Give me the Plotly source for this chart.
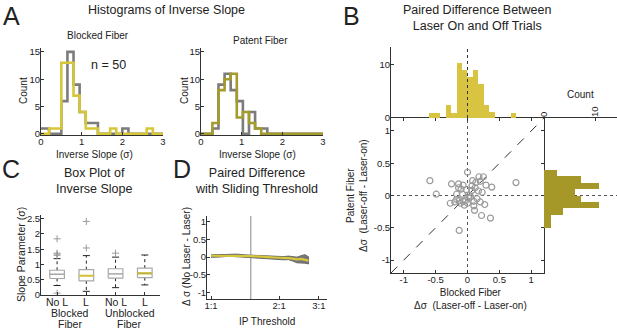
import plotly.graph_objects as go

W, H = 617, 331
FONT = "Liberation Sans, Arial, sans-serif"

# ---------------- Panel A: histograms of inverse slope ----------------
hist_bin_width = 0.15
blocked_edge0 = -0.1
blocked_nolaser_counts = [1, 1, 0, 0, 6, 15, 9, 4, 2, 2, 0, 0, 0, 0, 1, 0, 0, 0, 0, 0, 0]
blocked_laser_counts = [0, 0, 1, 1, 13, 13, 7, 4, 1, 1, 0, 0, 1, 0, 0, 0, 0, 0, 1, 0, 0]
patent_edge0 = -0.02
patent_nolaser_counts = [0, 0, 1, 9, 11, 8, 6, 0, 4, 1, 1, 0, 0, 0, 0, 0, 0, 0, 0, 0, 0]
patent_laser_counts = [0, 0, 2, 8, 10, 11, 3, 4, 2, 1, 0, 0, 0, 0, 0, 0, 0, 0, 0, 0, 0]
n_label = "n = 50"

# ---------------- Panel C: box plot ----------------
box_labels = ["No L", "L", "No L", "L"]
box_groups = ["Blocked", "Unblocked"]
box_q1 = [0.54, 0.46, 0.55, 0.57]
box_median = [0.68, 0.63, 0.69, 0.71]
box_q3 = [0.81, 0.83, 0.86, 0.88]
box_whisk_lo = [0.31, 0.12, 0.24, 0.33]
box_whisk_hi = [1.19, 1.29, 1.24, 1.31]
box_outliers = [[1.30, 1.34, 1.37, 1.84, 0.06], [1.54, 2.41], [1.37], []]
box_median_colors = ["#a8a8a8", "#d8c440", "#a8a8a8", "#c2b232"]

# ---------------- Panel D: sliding threshold ----------------
ip_threshold = [1.0, 1.1, 1.2, 1.3, 1.4, 1.5, 1.6, 1.7, 1.8, 1.9, 2.0, 2.1, 2.2, 2.3, 2.4, 2.5, 2.6, 2.7]
diff_gray = [0.03, 0.04, 0.06, 0.05, 0.03, 0.02, 0.01, 0.0, -0.01, -0.02, -0.02, -0.03, -0.02, -0.05, -0.08, -0.06, -0.05, -0.09]
diff_gray_spread = [0.035, 0.035, 0.035, 0.035, 0.035, 0.035, 0.035, 0.035, 0.035, 0.04, 0.045, 0.045, 0.05, 0.06, 0.08, 0.10, 0.12, 0.10]
diff_yellow = [0.04, 0.04, 0.05, 0.05, 0.04, 0.03, 0.02, 0.0, 0.0, -0.01, -0.01, -0.02, -0.03, -0.04, -0.06, -0.05, -0.08, -0.10]
threshold_marker = 1.5

# ---------------- Panel B: paired differences ----------------
blocked_diff = [-0.59, -0.49, -0.25, -0.27, -0.14, -0.13, 0.0, 0.76, 0.36, 0.22, 0.27, -0.07, -0.14, -0.10,
                0.08, 0.18, 0.25, 0.20, 0.29, 0.38, 0.13, 0.07, 0.07, 0.17, 0.23, -0.17, -0.08, -0.17,
                -0.13, -0.11, -0.07, -0.03, 0.02, 0.0, 0.10, 0.10, 0.11, 0.20, -0.05, 0.03, 0.12, -0.02,
                0.15, -0.20, 0.05]
patent_diff = [0.23, 0.02, 0.18, -0.12, 0.18, -0.54, 0.36, 0.20, -0.35, -0.31, -0.14, 0.16, 0.12, 0.10,
               0.23, 0.29, 0.29, 0.22, 0.16, 0.13, 0.20, 0.15, 0.08, 0.07, 0.05, 0.02, 0.02, -0.06,
               -0.08, -0.12, -0.09, -0.08, -0.04, -0.12, -0.09, -0.16, -0.23, -0.10, -0.15, 0.0, 0.12, 0.09,
               -0.05, -0.10, -0.02]
top_hist_edge0 = -0.6
top_hist_width = 0.0855
top_hist_counts = [1, 1, 0, 2.5, 1, 10.3, 9, 7.6, 9, 6.3, 2.4, 1.1, 0, 0, 0, 1]
side_hist_edge_top = 0.4
side_hist_width = 0.1
side_hist_counts = [2.5, 7.2, 10.8, 6.1, 7.2, 10.8, 3.7, 1.4, 1.4]

GRAY = "#7c7c7c"
YELLOW = "#d6c63a"
OLIVE = "#a39b2c"
TOPYEL = "#d8c440"
SIDEOLV = "#a59828"


def xd(a, b):
    return [a / W, b / W]


def yd(top, bottom):
    return [1 - bottom / H, 1 - top / H]


def stairs(edge0, width, counts):
    edges = [edge0 + width * i for i in range(len(counts) + 1)]
    return edges, list(counts) + [counts[-1]]


fig = go.Figure()

# Panel A traces
for counts, color in [(blocked_nolaser_counts, GRAY), (blocked_laser_counts, YELLOW)]:
    xs, ys = stairs(blocked_edge0, hist_bin_width, counts)
    fig.add_trace(go.Scatter(x=xs, y=ys, mode="lines", line=dict(color=color, width=2.6, shape="hv"),
                             xaxis="x", yaxis="y", showlegend=False, hoverinfo="skip"))
for counts, color in [(patent_nolaser_counts, GRAY), (patent_laser_counts, OLIVE)]:
    xs, ys = stairs(patent_edge0, hist_bin_width, counts)
    fig.add_trace(go.Scatter(x=xs, y=ys, mode="lines", line=dict(color=color, width=2.6, shape="hv"),
                             xaxis="x2", yaxis="y2", showlegend=False, hoverinfo="skip"))

# Panel C traces (box plot drawn from summary statistics)
bw = 0.25
cw = 0.12
pos = list(range(1, len(box_labels) + 1))
rx, ry, wx, wy, cx, cy = [], [], [], [], [], []
for p, a, b, lo, hi in zip(pos, box_q1, box_q3, box_whisk_lo, box_whisk_hi):
    rx += [p - bw, p + bw, p + bw, p - bw, p - bw, None]
    ry += [a, a, b, b, a, None]
    wx += [p, p, None, p, p, None]
    wy += [b, hi, None, a, lo, None]
    cx += [p - cw, p + cw, None, p - cw, p + cw, None]
    cy += [hi, hi, None, lo, lo, None]
fig.add_trace(go.Scatter(x=wx, y=wy, mode="lines", line=dict(color="#222", width=1, dash="dot"),
                         xaxis="x3", yaxis="y3", showlegend=False, hoverinfo="skip"))
fig.add_trace(go.Scatter(x=cx, y=cy, mode="lines", line=dict(color="#222", width=1),
                         xaxis="x3", yaxis="y3", showlegend=False, hoverinfo="skip"))
fig.add_trace(go.Scatter(x=rx, y=ry, mode="lines", line=dict(color="#a8a8a8", width=1.2),
                         fill="toself", fillcolor="white",
                         xaxis="x3", yaxis="y3", showlegend=False, hoverinfo="skip"))
for p, m, col in zip(pos, box_median, box_median_colors):
    fig.add_trace(go.Scatter(x=[p - bw, p + bw], y=[m, m], mode="lines",
                             line=dict(color=col, width=2.2 if col != "#a8a8a8" else 1.5),
                             xaxis="x3", yaxis="y3", showlegend=False, hoverinfo="skip"))
ox, oy = [], []
for p, outs in zip(pos, box_outliers):
    ox += [p] * len(outs)
    oy += outs
fig.add_trace(go.Scatter(x=ox, y=oy, mode="markers",
                         marker=dict(symbol="cross-thin", size=5, line=dict(width=1, color="#9a9a9a")),
                         xaxis="x3", yaxis="y3", showlegend=False, hoverinfo="skip"))

# Panel D traces
upper = [m + s for m, s in zip(diff_gray, diff_gray_spread)]
lower = [m - s for m, s in zip(diff_gray, diff_gray_spread)]
fig.add_trace(go.Scatter(x=ip_threshold + ip_threshold[::-1], y=upper + lower[::-1], mode="lines",
                         fill="toself", fillcolor="#777777", line=dict(color="#6a6a6a", width=1),
                         xaxis="x4", yaxis="y4", showlegend=False, hoverinfo="skip"))
fig.add_trace(go.Scatter(x=ip_threshold, y=diff_yellow, mode="lines", line=dict(color=YELLOW, width=2.2),
                         xaxis="x4", yaxis="y4", showlegend=False, hoverinfo="skip"))

# Panel B traces
fig.add_trace(go.Scatter(x=blocked_diff, y=patent_diff, mode="markers",
                         marker=dict(symbol="circle-open", size=6, line=dict(width=1.2, color="#9a9a9a"),
                                     color="#9a9a9a"),
                         xaxis="x5", yaxis="y5", showlegend=False, hoverinfo="skip"))
top_centers = [top_hist_edge0 + top_hist_width * (i + 0.5) for i in range(len(top_hist_counts))]
fig.add_trace(go.Bar(x=top_centers, y=top_hist_counts, width=top_hist_width, marker=dict(color=TOPYEL, line=dict(width=0)),
                     xaxis="x6", yaxis="y6", showlegend=False, hoverinfo="skip"))
side_centers = [side_hist_edge_top - side_hist_width * (i + 0.5) for i in range(len(side_hist_counts))]
fig.add_trace(go.Bar(y=side_centers, x=side_hist_counts, width=side_hist_width, orientation="h",
                     marker=dict(color=SIDEOLV, line=dict(width=0)),
                     xaxis="x7", yaxis="y7", showlegend=False, hoverinfo="skip"))

axis_common = dict(showline=True, linecolor="#333", linewidth=1, ticks="inside", ticklen=3,
                   tickcolor="#333", showgrid=False, zeroline=False, automargin=False,
                   ticklabelstandoff=-2,
                   tickfont=dict(size=9.5, color="#222", family=FONT))
bare = dict(showline=False, showticklabels=False, showgrid=False, zeroline=False, ticks="",
            automargin=False)

layout = dict(
    width=W, height=H, margin=dict(l=0, r=0, t=0, b=0, pad=0), autosize=False,
    paper_bgcolor="white", plot_bgcolor="rgba(0,0,0,0)",
    font=dict(family=FONT, color="#222"), bargap=0,
    xaxis=dict(domain=xd(41, 163), range=[0, 3], tickvals=[0, 1, 2, 3], anchor="y", **axis_common),
    yaxis=dict(domain=yd(48, 135), range=[-0.2, 15.7], tickvals=[0, 5, 10, 15], anchor="x", **axis_common),
    xaxis2=dict(domain=xd(201, 323), range=[0, 3], tickvals=[0, 1, 2, 3], anchor="y2", **axis_common),
    yaxis2=dict(domain=yd(48, 135), range=[-0.2, 15.7], tickvals=[0, 5, 10, 15], anchor="x2", **axis_common),
    xaxis3=dict(domain=xd(41, 160), range=[0.45, 4.52], tickvals=pos, ticktext=[""] * 4, anchor="y3", **axis_common),
    yaxis3=dict(domain=yd(215, 295), range=[0, 2.62], tickvals=[0, 0.5, 1, 1.5, 2, 2.5],
                ticktext=["0", "0.5", "1", "1.5", "2", "2.5"], anchor="x3", **axis_common),
    xaxis4=dict(domain=xd(207, 327), type="log", range=[-0.0177, 0.513], tickvals=[1, 2, 3],
                ticktext=["1:1", "2:1", "3:1"], anchor="y4", **axis_common),
    yaxis4=dict(domain=yd(216, 299), range=[-1.18, 1.16], tickvals=[-1, -0.5, 0, 0.5, 1],
                ticktext=["-1", "-0.5", "0", "0.5", "1"], anchor="x4", **axis_common),
    xaxis5=dict(domain=xd(391, 544), range=[-1.2, 1.2], tickvals=[-1, -0.5, 0, 0.5, 1],
                ticktext=["-1", "-0.5", "0", "0.5", "1"], mirror="ticks", anchor="y5", **axis_common),
    yaxis5=dict(domain=yd(118, 273), range=[-1.2, 1.2], tickvals=[-1, -0.5, 0, 0.5, 1],
                ticktext=["-1", "-0.5", "0", "0.5", "1"], mirror="ticks", anchor="x5", **axis_common),
    xaxis6=dict(domain=xd(391, 544), range=[-1.2, 1.2], anchor="y6", **bare),
    yaxis6=dict(domain=yd(47, 118), range=[0, 13.2], tickvals=[0, 10], anchor="x6", **axis_common),
    xaxis7=dict(domain=xd(544, 617), range=[0, 14.3], tickvals=[0, 10], side="top", tickangle=-90,
                anchor="y7", **axis_common),
    yaxis7=dict(domain=yd(118, 273), range=[-1.2, 1.2], anchor="x7", **bare),
)
fig.update_layout(**layout)

# reference lines
fig.add_shape(type="line", xref="x5", yref="y5", x0=-1.2, y0=-1.2, x1=1.2, y1=1.2,
              line=dict(color="#333", width=1, dash="dash"), layer="below")
fig.add_shape(type="line", xref="x5", yref="y5", x0=0, y0=-1.2, x1=0, y1=1.2,
              line=dict(color="#555", width=1, dash="dot"), layer="below")
fig.add_shape(type="line", xref="x5", yref="y5", x0=-1.2, y0=0, x1=1.2, y1=0,
              line=dict(color="#555", width=1, dash="dot"), layer="below")
fig.add_shape(type="line", xref="x6", yref="y6", x0=0, y0=0, x1=0, y1=13.2,
              line=dict(color="#333", width=1, dash="dot"), layer="above")
fig.add_shape(type="line", xref="x7", yref="y7", x0=0, y0=0, x1=14.3, y1=0,
              line=dict(color="#555", width=1, dash="dot"), layer="below")
fig.add_shape(type="line", xref="x4", yref="y4", x0=threshold_marker, y0=-1.18, x1=threshold_marker, y1=1.16,
              line=dict(color="#888", width=1), layer="below")


def ann(text, px, py, size=10, angle=0, xanchor="center"):
    fig.add_annotation(text=text, x=px / W, y=1 - py / H, xref="paper", yref="paper",
                       showarrow=False, textangle=angle, xanchor=xanchor, yanchor="middle",
                       font=dict(size=size, family=FONT, color="#222"))


# Panel letters
ann("A", 11, 16, size=25)
ann("B", 351, 16, size=25)
ann("C", 11, 169, size=25)
ann("D", 182, 169, size=25)

# Panel A text
ann("Histograms of Inverse Slope", 166, 10, size=12.5)
ann("Blocked Fiber", 98, 36, size=10)
ann("Patent Fiber", 260, 41, size=10)
ann(n_label, 108, 65, size=12.5)
ann("Count", 23, 91, size=10, angle=-90)
ann("Count", 184, 91, size=10, angle=-90)
ann("Inverse Slope (σ)", 94, 154, size=10)
ann("Inverse Slope (σ)", 257, 154, size=10)

# Panel C text
ann("Box Plot of<br>Inverse Slope", 94, 181, size=12.5)
ann("Slope Parameter (σ)", 21, 254, size=10.5, angle=-90)
for p, lab in zip(pos, box_labels):
    ann(lab, 41 + (p - 0.45) / (4.52 - 0.45) * 119, 302, size=10.5)
ann(box_groups[0], 70, 313, size=10.5)
ann("Fiber", 70, 324, size=10.5)
ann(box_groups[1], 130, 313, size=10.5)
ann("Fiber", 129, 324, size=10.5)

# Panel D text
ann("Paired Difference<br>with Sliding Threshold", 256, 181, size=12.5)
ann("Δ σ (No Laser - Laser)", 186, 257, size=10, angle=-90)
ann("IP Threshold", 267, 321, size=10)

# Panel B text
ann("Paired Difference Between<br>Laser On and Off Trials", 477, 18, size=12.5)
ann("Count", 580, 94, size=10)
ann("Patent Fiber<br>Δσ  (Laser-off - Laser-on)", 357, 196, size=10, angle=-90)
ann("Blocked Fiber<br>Δσ  (Laser-off - Laser-on)", 470, 299, size=10)

fig.write_html("out.html", config={"displayModeBar": False},
               post_script="document.body.style.margin='0';document.body.style.padding='0';")
